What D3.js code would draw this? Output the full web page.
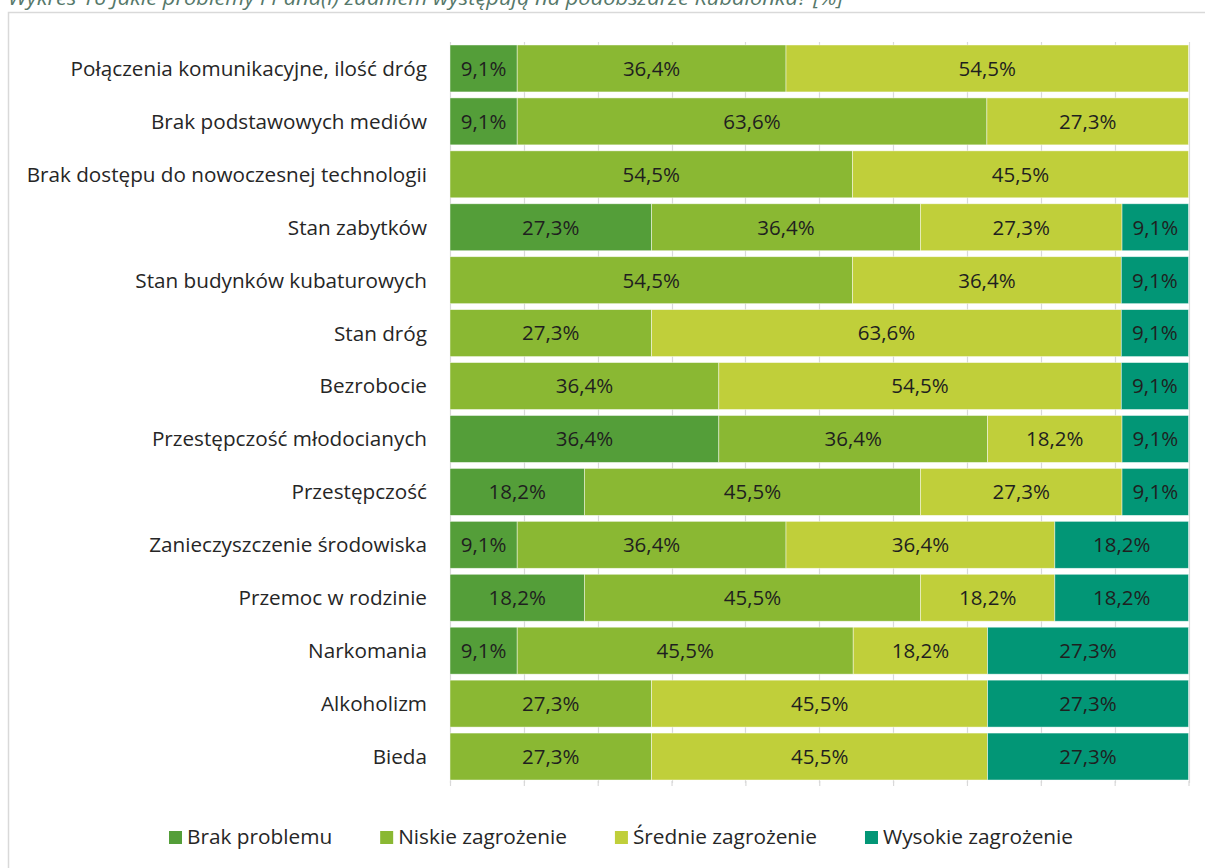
<!DOCTYPE html>
<html>
<head>
<meta charset="utf-8">
<script src="https://cdn.jsdelivr.net/npm/d3@7"></script>
<style>
  html, body { margin: 0; padding: 0; background: #fff; }
  svg { display: block; }
</style>
</head>
<body>
<svg id="chart" width="1205" height="868"></svg>
<script>
// Survey answers: share of respondents per threat level, in percent
const categories = [
  "Połączenia komunikacyjne, ilość dróg",
  "Brak podstawowych mediów",
  "Brak dostępu do nowoczesnej technologii",
  "Stan zabytków",
  "Stan budynków kubaturowych",
  "Stan dróg",
  "Bezrobocie",
  "Przestępczość młodocianych",
  "Przestępczość",
  "Zanieczyszczenie środowiska",
  "Przemoc w rodzinie",
  "Narkomania",
  "Alkoholizm",
  "Bieda"
];
const seriesNames = ["Brak problemu", "Niskie zagrożenie", "Średnie zagrożenie", "Wysokie zagrożenie"];
const brakProblemu      = [9.1, 9.1, 0,    27.3, 0,    0,    0,    36.4, 18.2, 9.1,  18.2, 9.1,  0,    0];
const niskieZagrozenie  = [36.4, 63.6, 54.5, 36.4, 54.5, 27.3, 36.4, 36.4, 45.5, 36.4, 45.5, 45.5, 27.3, 27.3];
const srednieZagrozenie = [54.5, 27.3, 45.5, 27.3, 36.4, 63.6, 54.5, 18.2, 27.3, 36.4, 18.2, 18.2, 45.5, 45.5];
const wysokieZagrozenie = [0,    0,    0,    9.1,  9.1,  9.1,  9.1,  9.1,  9.1,  18.2, 18.2, 27.3, 27.3, 27.3];
const xTicks = [0, 10, 20, 30, 40, 50, 60, 70, 80, 90, 100];
const colors = ["#549E39", "#8AB833", "#C0CF3A", "#029676"];
const title = "Wykres 16 Jakie problemy i Pana(i) zdaniem występują na podobszarze Kubalonka? [%]";

const FONT = "'Open Sans', Lato, sans-serif";
const svg = d3.select("#chart");

// chart area frame
svg.append("rect")
  .attr("x", 8.5).attr("y", 12.5)
  .attr("width", 1210).attr("height", 870)
  .attr("fill", "#fff")
  .attr("stroke", "#d9d9d9").attr("stroke-width", 1.5);

// title (sits above the frame, partly outside the page)
svg.append("text")
  .attr("x", 8).attr("y", 5)
  .attr("font-family", FONT).attr("font-style", "italic")
  .attr("font-size", 20).attr("fill", "#56786a")
  .attr("textLength", 835).attr("lengthAdjust", "spacingAndGlyphs")
  .text(title);

const rows = categories.map((c, i) => ({
  cat: c,
  vals: [brakProblemu[i], niskieZagrozenie[i], srednieZagrozenie[i], wysokieZagrozenie[i]]
}));

const x = d3.scaleLinear().domain([0, 100]).range([450, 1188.5]);
const y = d3.scaleBand().domain(categories).range([42, 783]).paddingInner(0.113).paddingOuter(0.0565);

// vertical gridlines
svg.append("g").selectAll("line").data(xTicks).join("line")
  .attr("x1", d => Math.round(x(d)) + 0.5).attr("x2", d => Math.round(x(d)) + 0.5)
  .attr("y1", 42).attr("y2", 783)
  .attr("stroke", "#d9d9d9").attr("stroke-width", 1.2);

// bottom axis: tick marks only
const xAxis = d3.axisBottom(x).tickValues(xTicks).tickSize(5).tickFormat("");
const gx = svg.append("g").attr("transform", "translate(0,781)").call(xAxis);
gx.select(".domain").remove();
gx.selectAll(".tick line").attr("stroke", "#d9d9d9").attr("stroke-width", 1.2);

// stacked segments
const fmt = v => v.toFixed(1).replace(".", ",") + "%";
rows.forEach(r => {
  let acc = 0;
  const segs = r.vals.map((v, k) => {
    const s = { k, v, x0: acc, x1: acc + v };
    acc += v;
    return s;
  }).filter(s => s.v > 0);
  const g = svg.append("g");
  g.selectAll("rect").data(segs).join("rect")
    .attr("x", s => x(s.x0))
    .attr("y", y(r.cat))
    .attr("width", s => x(Math.min(s.x1, 100)) - x(s.x0))
    .attr("height", y.bandwidth())
    .attr("fill", s => colors[s.k])
    .attr("stroke", "#ffffff").attr("stroke-opacity", 0.6).attr("stroke-width", 0.75);
  g.selectAll("text").data(segs).join("text")
    .attr("x", s => (x(s.x0) + x(Math.min(s.x1, 100))) / 2)
    .attr("y", y(r.cat) + y.bandwidth() / 2)
    .attr("dy", "0.36em")
    .attr("text-anchor", "middle")
    .attr("font-family", FONT).attr("font-size", 20.5)
    .attr("fill", "#1f1f1f")
    .text(s => fmt(s.v));
});

// category labels
svg.append("g").selectAll("text").data(categories).join("text")
  .attr("x", 427)
  .attr("y", d => y(d) + y.bandwidth() / 2)
  .attr("dy", "0.36em")
  .attr("text-anchor", "end")
  .attr("font-family", FONT).attr("font-size", 20.7)
  .attr("fill", "#262626")
  .text(d => d);

// legend, spread between x = 169 and x = 1073
const legend = svg.append("g");
const items = legend.selectAll("g").data(seriesNames).join("g");
items.append("rect").attr("width", 13).attr("height", 13).attr("y", -13)
  .attr("fill", (d, i) => colors[i]);
items.append("text").attr("x", 18).attr("y", 0)
  .attr("font-family", FONT).attr("font-size", 20.8)
  .attr("fill", "#262626")
  .text(d => d);
const widths = items.nodes().map(n => n.getBBox().width);
const gap = (1073 - 169 - d3.sum(widths)) / (widths.length - 1);
let lx = 169;
items.each(function(d, i) {
  d3.select(this).attr("transform", `translate(${lx},${844})`);
  lx += widths[i] + gap;
});
</script>
</body>
</html>
